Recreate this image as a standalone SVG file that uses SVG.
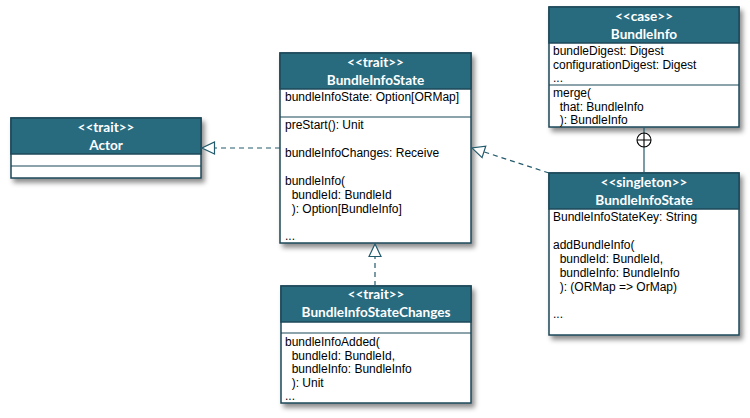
<svg xmlns="http://www.w3.org/2000/svg" width="750" height="418" viewBox="0 0 750 418">
<defs>
<filter id="sh" x="-10%" y="-10%" width="130%" height="130%">
<feDropShadow dx="3" dy="4" stdDeviation="2.5" flood-color="#000" flood-opacity="0.45"/>
</filter>
<marker id="tri" viewBox="0 0 15 14" refX="13.5" refY="7" markerWidth="15" markerHeight="14" markerUnits="userSpaceOnUse" orient="auto">
<path d="M1,1 L13.5,7 L1,13 Z" fill="#fff" stroke="#235a6c" stroke-width="1.2"/>
</marker>
</defs>
<style>
.box{fill:#fff;stroke:#1d4858;stroke-width:1.5}
.hd{fill:#286b7f;stroke:#1d4858;stroke-width:1.5}
.dv{stroke:#1d4858;stroke-width:1.2}
.ht{font-family:Lato,"Open Sans",sans-serif;font-weight:bold;font-size:13.6px;fill:#fff;text-anchor:middle}
.t{font-family:"Liberation Sans",Arial,sans-serif;font-size:12px;fill:#000}
.con{fill:none;stroke:#235a6c;stroke-width:1.2}
.dash{stroke-dasharray:5,4}
</style>
<rect width="750" height="418" fill="#fff"/>
<g id="actor">
<rect class="box" x="11" y="118" width="190" height="60" filter="url(#sh)"/>
<rect class="hd" x="11" y="118" width="190" height="36"/>
<line class="dv" x1="11" y1="166" x2="201" y2="166"/>
<text class="ht" x="106" y="132">&lt;&lt;trait&gt;&gt;</text>
<text class="ht" x="106" y="150">Actor</text>
</g>
<g id="bundleInfoStateTrait">
<rect class="box" x="280" y="53" width="191" height="190" filter="url(#sh)"/>
<rect class="hd" x="280" y="53" width="191" height="36"/>
<line class="dv" x1="280" y1="117" x2="471" y2="117"/>
<text class="ht" x="375.5" y="67">&lt;&lt;trait&gt;&gt;</text>
<text class="ht" x="375.5" y="85">BundleInfoState</text>
<text class="t" x="285" y="101">bundleInfoState: Option[ORMap]</text>
<text class="t" x="285" y="129">preStart(): Unit</text>
<text class="t" x="285" y="157">bundleInfoChanges: Receive</text>
<text class="t" x="285" y="185">bundleInfo(</text>
<text class="t" x="285" y="199" xml:space="preserve">  bundleId: BundleId</text>
<text class="t" x="285" y="213" xml:space="preserve">  ): Option[BundleInfo]</text>
<text class="t" x="285" y="240">...</text>
</g>
<g id="bundleInfoStateChanges">
<rect class="box" x="281" y="286" width="190" height="117" filter="url(#sh)"/>
<rect class="hd" x="281" y="286" width="190" height="36"/>
<line class="dv" x1="281" y1="333" x2="471" y2="333"/>
<text class="ht" x="376" y="299">&lt;&lt;trait&gt;&gt;</text>
<text class="ht" x="376" y="317">BundleInfoStateChanges</text>
<text class="t" x="285" y="346">bundleInfoAdded(</text>
<text class="t" x="285" y="359.5" xml:space="preserve">  bundleId: BundleId,</text>
<text class="t" x="285" y="373" xml:space="preserve">  bundleInfo: BundleInfo</text>
<text class="t" x="285" y="386.5" xml:space="preserve">  ): Unit</text>
<text class="t" x="285" y="400">...</text>
</g>
<g id="bundleInfo">
<rect class="box" x="549" y="7" width="190" height="120" filter="url(#sh)"/>
<rect class="hd" x="549" y="7" width="190" height="36"/>
<line class="dv" x1="549" y1="85" x2="739" y2="85"/>
<text class="ht" x="644" y="21">&lt;&lt;case&gt;&gt;</text>
<text class="ht" x="644" y="39">BundleInfo</text>
<text class="t" x="553" y="55">bundleDigest: Digest</text>
<text class="t" x="553" y="68.5">configurationDigest: Digest</text>
<text class="t" x="553" y="82">...</text>
<text class="t" x="553" y="97">merge(</text>
<text class="t" x="553" y="110.5" xml:space="preserve">  that: BundleInfo</text>
<text class="t" x="553" y="124" xml:space="preserve">  ): BundleInfo</text>
</g>
<g id="bundleInfoStateSingleton">
<rect class="box" x="549" y="173" width="190" height="162" filter="url(#sh)"/>
<rect class="hd" x="549" y="173" width="190" height="36"/>
<text class="ht" x="644" y="187">&lt;&lt;singleton&gt;&gt;</text>
<text class="ht" x="644" y="205">BundleInfoState</text>
<text class="t" x="553" y="221">BundleInfoStateKey: String</text>
<text class="t" x="553" y="249">addBundleInfo(</text>
<text class="t" x="553" y="263" xml:space="preserve">  bundleId: BundleId,</text>
<text class="t" x="553" y="277" xml:space="preserve">  bundleInfo: BundleInfo</text>
<text class="t" x="553" y="291" xml:space="preserve">  ): (ORMap =&gt; OrMap)</text>
<text class="t" x="553" y="318">...</text>
</g>
<g id="connectors">
<path class="con dash" d="M280,148 L202,148" marker-end="url(#tri)"/>
<path class="con dash" d="M549,173 L472,148" marker-end="url(#tri)"/>
<path class="con dash" d="M375,286 L375,244" marker-end="url(#tri)"/>
<path class="con" d="M644,128 L644,173"/>
<circle cx="644" cy="140" r="7" fill="#fff" stroke="#000" stroke-width="1.1"/>
<path d="M637,140 L651,140 M644,133 L644,147" stroke="#000" stroke-width="1.1"/>
</g>
</svg>
